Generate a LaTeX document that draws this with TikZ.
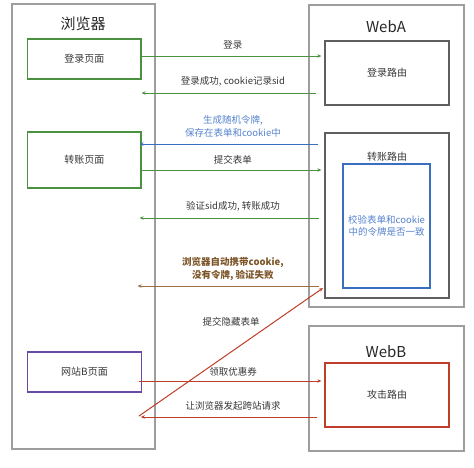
\documentclass[tikz,border=0pt]{standalone}
\usepackage{fontspec}
\setmainfont{Noto Sans CJK SC}
\usetikzlibrary{arrows.meta}

\definecolor{lgreen}{RGB}{76,145,65}
\definecolor{lblue}{RGB}{58,110,190}
\definecolor{tblue}{RGB}{85,130,205}
\definecolor{lbrown}{RGB}{155,110,65}
\definecolor{tbrown}{RGB}{125,85,40}
\definecolor{lred}{RGB}{190,62,42}
\definecolor{lpurple}{RGB}{105,75,165}
\definecolor{fgray}{RGB}{158,158,158}
\definecolor{rgray}{RGB}{95,95,95}
\definecolor{tgray}{RGB}{55,55,55}

\begin{document}
\begin{tikzpicture}[x=1pt, y=-1pt,
  frame/.style={draw=fgray, line width=1.1pt},
  title/.style={font=\fontsize{15}{18}\selectfont, text=black!85},
  page/.style={draw, line width=1.2pt, minimum width=113.5pt, text=tgray,
               font=\fontsize{10}{12}\selectfont},
  route/.style={draw=rgray, line width=1.3pt, minimum width=124pt, text=tgray,
                font=\fontsize{10}{12}\selectfont},
  lbl/.style={font=\fontsize{9.5}{13}\selectfont, text=tgray, align=center,
              inner sep=1pt},
  arrow/.style={-{Stealth[length=4pt,width=3.5pt]}, line width=1pt}
]
  \useasboundingbox (0,0) rectangle (474,467);

  % containers
  \node[frame, minimum width=143pt, minimum height=445pt] (browser) at (83.5,226.5) {};
  \node[frame, minimum width=155pt, minimum height=302pt] (weba) at (386.5,156) {};
  \node[frame, minimum width=155pt, minimum height=125pt] (webb) at (386.5,388.5) {};
  \node[title] (browsert) at (83,24) {浏览器};
  \node[title] (webat) at (386,27) {WebA};
  \node[title] (webbt) at (386,352) {WebB};

  % browser pages
  \node[page, draw=lgreen, minimum height=40pt] (loginpage) at (84.25,59) {登录页面};
  \node[page, draw=lgreen, minimum height=56pt] (xferpage) at (84.25,160) {转账页面};
  \node[page, draw=lpurple, minimum height=40pt] (bpage) at (84.5,372) {网站B页面};

  % server routes
  \node[route, minimum height=64pt] (loginroute) at (387,73) {登录路由};
  \node[route, minimum height=165pt] (xferroute) at (387,215.5) {};
  \node[route, draw=none, inner sep=0pt] (xfert) at (387,157) {转账路由};
  \node[draw=lblue, line width=1.2pt, minimum width=87pt, minimum height=124pt,
        text=tblue, align=center, font=\fontsize{9.5}{11.5}\selectfont]
        (check) at (386.5,226) {校验表单和cookie\\中的令牌是否一致};
  \node[route, draw=lred, minimum height=64pt] (atkroute) at (387,395) {攻击路由};

  % message heights
  \coordinate (y1) at (0,56);
  \coordinate (y2) at (0,93);
  \coordinate (y3) at (0,144);
  \coordinate (y4) at (0,170);
  \coordinate (y5) at (0,218);
  \coordinate (y6) at (0,286);
  \coordinate (y8) at (0,381);
  \coordinate (y9) at (0,417);
  \coordinate (hidden0) at (139,416);
  \coordinate (hidden1) at (323,288);

  \draw[arrow, lgreen, shorten >=3pt] (loginpage.east |- y1) -- (loginroute.west |- y1)
    node[lbl, midway, above=5pt] {登录};
  \draw[arrow, lgreen, shorten <=8pt] (loginroute.west |- y2) -- (loginpage.east |- y2)
    node[lbl, midway, above=5pt] {登录成功, cookie记录sid};
  \draw[arrow, lblue, shorten <=6pt, shorten >=-2pt] (xferroute.west |- y3) -- (xferpage.east |- y3)
    node[lbl, text=tblue, midway, above=5pt] {生成随机令牌,\\保存在表单和cookie中};
  \draw[arrow, lgreen, shorten >=3pt] (xferpage.east |- y4) -- (xferroute.west |- y4)
    node[lbl, midway, above=4pt] {提交表单};
  \draw[arrow, lgreen, shorten <=5pt, shorten >=-2pt] (xferroute.west |- y5) -- (xferpage.east |- y5)
    node[lbl, midway, above=5pt] {验证sid成功, 转账成功};
  \draw[arrow, lbrown, shorten <=5pt, shorten >=-4pt] (xferroute.west |- y6) -- (xferpage.east |- y6)
    node[lbl, text=tbrown, font=\fontsize{9.5}{13}\selectfont\bfseries, midway, above=4pt]
    {浏览器自动携带cookie,\\没有令牌, 验证失败};
  \draw[arrow, lred] (hidden0) -- (hidden1)
    node[lbl, midway, above=24pt] {提交隐藏表单};
  \draw[arrow, lred, shorten <=-3pt, shorten >=3pt] (bpage.east |- y8) -- (atkroute.west |- y8)
    node[lbl, midway, above=3pt] {领取优惠券};
  \draw[arrow, lred, shorten <=7pt, shorten >=-1pt] (atkroute.west |- y9) -- (bpage.east |- y9)
    node[lbl, midway, above=5pt] {让浏览器发起跨站请求};
\end{tikzpicture}
\end{document}
